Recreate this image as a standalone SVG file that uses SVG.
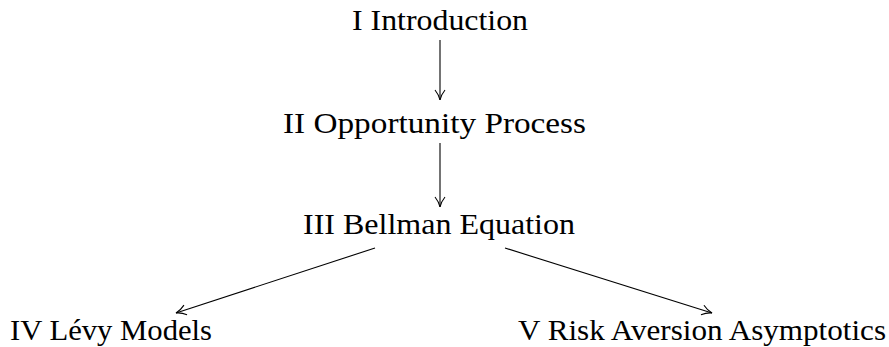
<svg xmlns="http://www.w3.org/2000/svg" width="889" height="347" viewBox="0 0 889 347">
<style>
text{font-family:"Liberation Serif","DejaVu Serif",serif;font-size:30px;fill:#000}
.c{fill:none;stroke:#000;stroke-width:1.1}
</style>
<defs>
<marker id="ah" viewBox="0 0 12 12" refX="11" refY="6" markerWidth="12" markerHeight="12" markerUnits="userSpaceOnUse" orient="auto">
<path d="M1,1 Q6,5 11,6 Q6,7 1,11" fill="none" stroke="#000" stroke-width="1.1"/>
</marker>
</defs>
<rect width="889" height="347" fill="#fff"/>
<g id="n1"><text x="352" y="30" textLength="176" lengthAdjust="spacingAndGlyphs">I Introduction</text></g>
<g id="n2"><text x="283" y="133" textLength="303" lengthAdjust="spacingAndGlyphs">II Opportunity Process</text></g>
<g id="n3"><text x="303" y="234" textLength="272" lengthAdjust="spacingAndGlyphs">III Bellman Equation</text></g>
<g id="n4"><text x="10" y="340" textLength="202" lengthAdjust="spacingAndGlyphs">IV Lévy Models</text></g>
<g id="n5"><text x="518" y="340" textLength="368" lengthAdjust="spacingAndGlyphs">V Risk Aversion Asymptotics</text></g>
<g id="edges">
<line class="c" x1="440" y1="40" x2="440" y2="100" marker-end="url(#ah)"/>
<line class="c" x1="440" y1="143" x2="440" y2="207" marker-end="url(#ah)"/>
<line class="c" x1="375" y1="248" x2="176" y2="313" marker-end="url(#ah)"/>
<line class="c" x1="505" y1="248" x2="712" y2="313" marker-end="url(#ah)"/>
</g>
</svg>
